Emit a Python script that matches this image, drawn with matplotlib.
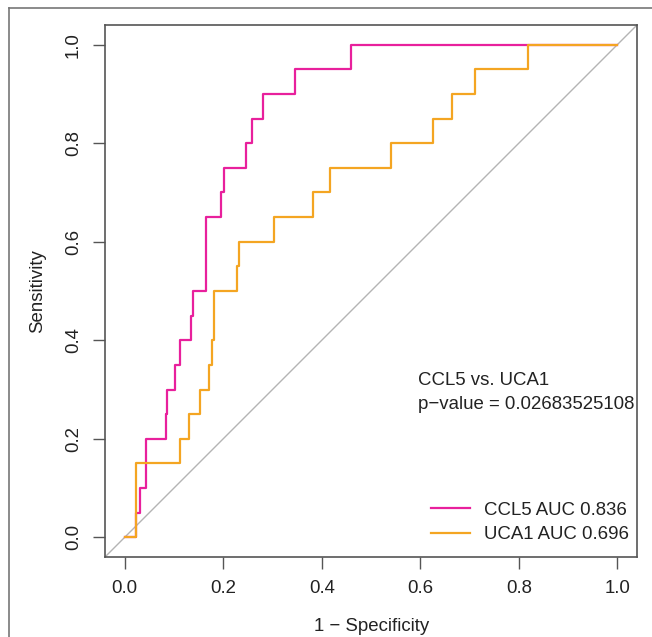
import matplotlib
matplotlib.use("Agg")
import matplotlib.pyplot as plt
from matplotlib.lines import Line2D

# ROC step points (1 - specificity, sensitivity)
ccl5_fpr = [0, 0.022, 0.031, 0.0425, 0.083, 0.085, 0.103, 0.113, 0.134, 0.139,
            0.166, 0.196, 0.201, 0.247, 0.258, 0.280, 0.346, 0.459, 1.0]
ccl5_tpr = [0, 0.05, 0.10, 0.20, 0.25, 0.30, 0.35, 0.40, 0.45, 0.50,
            0.65, 0.70, 0.75, 0.80, 0.85, 0.90, 0.95, 1.0, 1.0]

uca1_fpr = [0, 0.022, 0.113, 0.130, 0.152, 0.171, 0.177, 0.181, 0.227, 0.232,
            0.304, 0.382, 0.417, 0.540, 0.625, 0.665, 0.711, 0.818, 1.0]
uca1_tpr = [0, 0.15, 0.20, 0.25, 0.30, 0.35, 0.40, 0.50, 0.55, 0.60,
            0.65, 0.70, 0.75, 0.80, 0.85, 0.90, 0.95, 1.0, 1.0]

labels = ["CCL5 AUC 0.836", "UCA1 AUC 0.696"]
colors = ["#E8209C", "#F4A522"]
ticks = [0.0, 0.2, 0.4, 0.6, 0.8, 1.0]
tick_labels = ["0.0", "0.2", "0.4", "0.6", "0.8", "1.0"]

plt.rcParams["font.family"] = ["Liberation Sans", "DejaVu Sans"]
fs = 13.4
dark = "#555555"

fig = plt.figure(figsize=(6.52, 6.37), dpi=100)
ax = fig.add_axes([105 / 652, 80 / 637, 532 / 652, 532 / 637])

# identity line
ax.axline((0, 0), (1, 1), color="#b4b4b4", lw=1.0, zorder=1)

ax.plot(ccl5_fpr, ccl5_tpr, drawstyle="steps-post", color=colors[0], lw=1.6,
        label=labels[0], zorder=2)
ax.plot(uca1_fpr, uca1_tpr, drawstyle="steps-post", color=colors[1], lw=1.6,
        label=labels[1], zorder=3)

ax.set_xlim(-0.04, 1.04)
ax.set_ylim(-0.04, 1.04)
ax.set_xticks(ticks)
ax.set_xticklabels(tick_labels)
ax.set_yticks(ticks)
ax.set_yticklabels(tick_labels, rotation=90, va="center")
ax.tick_params(direction="out", length=8.6, width=1.0, color=dark,
               labelsize=fs, pad=8, labelcolor="#222222")

for s in ax.spines.values():
    s.set_color(dark)
    s.set_linewidth(1.2)

ax.set_xlabel("1 − Specificity", fontsize=fs, color="#222222", va="center")
ax.xaxis.set_label_coords(0.502, -0.130)
ax.set_ylabel("Sensitivity", fontsize=fs, color="#222222", va="center")
ax.yaxis.set_label_coords(-0.126, 0.5)

ax.text(0.595, 0.318, "CCL5 vs. UCA1", fontsize=fs, va="center", ha="left",
        color="#222222")
ax.text(0.595, 0.270, "p−value = 0.02683525108", fontsize=fs, va="center",
        ha="left", color="#222222")

leg = ax.legend(loc="lower right", bbox_to_anchor=(0.985, 0.026), frameon=False,
                fontsize=fs, handlelength=2.1, handletextpad=0.75,
                labelspacing=0.4, borderaxespad=0, borderpad=0)
for t in leg.get_texts():
    t.set_color("#222222")

# outer frame of the original image (top and left edges)
fig.add_artist(Line2D([9 / 652, 1.0], [1 - 8 / 637, 1 - 8 / 637],
                      transform=fig.transFigure, color="#777777", lw=1.2))
fig.add_artist(Line2D([9 / 652, 9 / 652], [0.0, 1 - 8 / 637],
                      transform=fig.transFigure, color="#777777", lw=1.2))

fig.savefig("out.png", dpi=100)
